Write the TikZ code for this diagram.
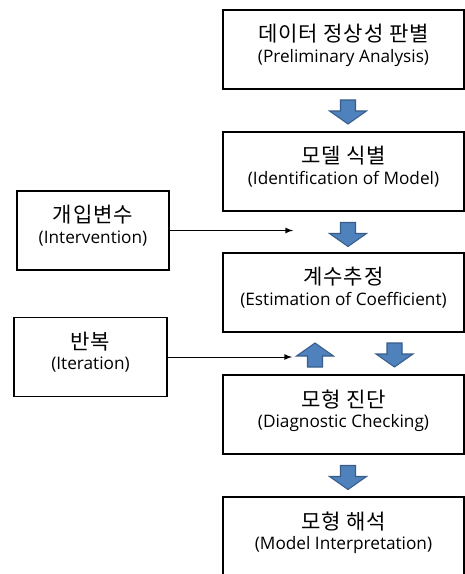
\documentclass[tikz,border=0pt]{standalone}
\usepackage{fontspec}
\setmainfont{Open Sans}
\newfontfamily\kor[LetterSpace=4]{Noto Sans CJK KR}
\usetikzlibrary{positioning}
\definecolor{arrowblue}{HTML}{4F81BD}
\definecolor{arrowedge}{HTML}{385D8A}
\newcommand{\kr}[1]{{\kor\fontsize{12}{14}\selectfont #1}}

\tikzset{
  stage/.style={draw, line width=1.1pt, minimum width=4.82cm, minimum height=1.58cm,
    align=center, inner sep=0pt, text depth=7pt, font=\fontsize{9.8}{11.5}\selectfont},
  extra/.style={stage, minimum width=3.04cm},
  feed/.style={-latex, line width=0.5pt},
  flowarrow/.pic={
    \filldraw[fill=arrowblue, draw=arrowedge, line width=0.6pt]
      (-7.5,-12) -- (7.5,-12) -- (7.5,-1) -- (18.5,-1) -- (0,12)
      -- (-18.5,-1) -- (-7.5,-1) -- cycle;
  }
}

\begin{document}
\begin{tikzpicture}[x=0.02cm, y=-0.02cm]
  \useasboundingbox (0,0) rectangle (465,574);

  % main stages
  \node[stage] (prelim) at (343.5,49.5) {\kr{데이터 정상성 판별}\\(Preliminary Analysis)};
  \node[stage] (ident) at (343.5,171.5) {\kr{모델 식별}\\(Identification of Model)};
  \node[stage] (estim) at (343.5,292.5) {\kr{계수추정}\\(Estimation of Coefficient)};
  \node[stage] (diag) at (343.5,414.5) {\kr{모형 진단}\\(Diagnostic Checking)};
  \node[stage] (interp) at (343.5,536.5) {\kr{모형 해석}\\(Model Interpretation)};

  % side inputs
  \node[extra] (interv) at (93,230.5) {\kr{개입변수}\\(Intervention)};
  \node[extra, minimum width=3.06cm] (iter) at (90.5,357) {\kr{반복}\\(Iteration)};

  % block arrows
  \pic at (348,112) {flowarrow};
  \pic at (348,234.5) {flowarrow};
  \pic[yscale=-1] at (315,355) {flowarrow};
  \pic at (394.5,355) {flowarrow};
  \pic at (348,477.5) {flowarrow};

  \coordinate (intervend) at (293,230.5);
  \coordinate (iterend) at (292,357);
  \draw[feed] (interv) -- (intervend);
  \draw[feed] (iter) -- (iterend);
\end{tikzpicture}
\end{document}
